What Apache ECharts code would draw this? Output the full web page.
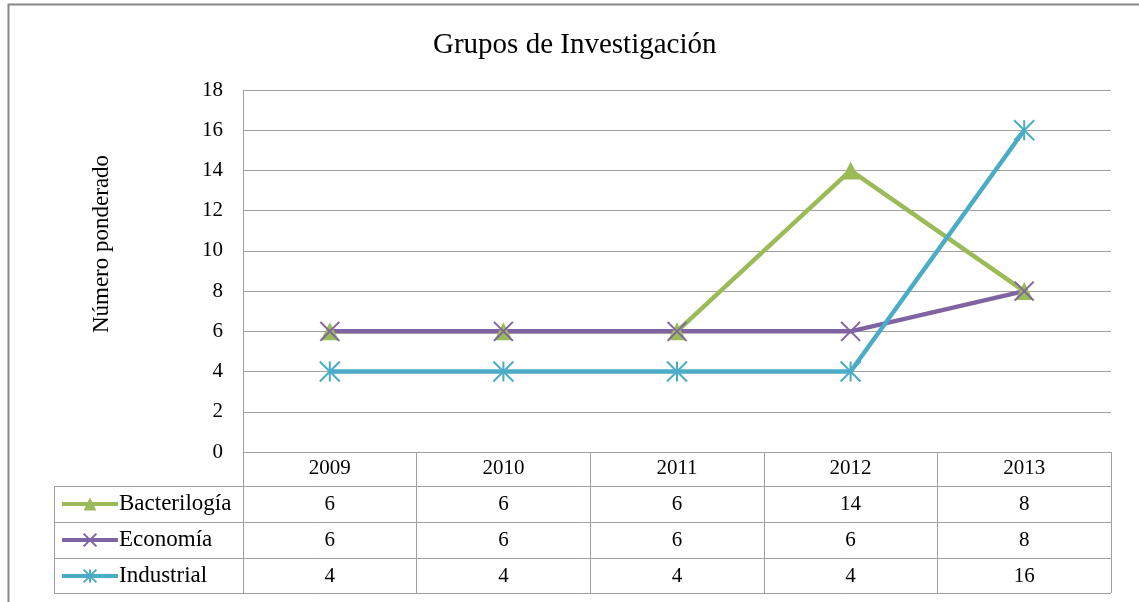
<!DOCTYPE html>
<html>
<head>
<meta charset="utf-8">
<script src="https://cdn.jsdelivr.net/npm/echarts@6/dist/echarts.min.js"></script>
<style>
html, body { margin: 0; padding: 0; background: #fff; }
#chart { width: 1139px; height: 602px; }
</style>
</head>
<body>
<div id="chart"></div>
<script>
var years = ['2009', '2010', '2011', '2012', '2013'];
var bacteriologia = [6, 6, 6, 14, 8];
var economia = [6, 6, 6, 6, 8];
var industrial = [4, 4, 4, 4, 16];
var yTicks = [0, 2, 4, 6, 8, 10, 12, 14, 16, 18];

var serif = '"Liberation Serif", "DejaVu Serif", serif';
var gray = '#a0a0a0';

var crossPath = 'path://M0,0 L10,10 M10,0 L0,10';
var starPath = 'path://M5,0 L5,10 M0,0 L10,10 M10,0 L0,10';

// filas de la tabla de datos bajo el eje
function rowAxis(values, off) {
    return {
        type: 'category',
        data: years,
        position: 'bottom',
        offset: off,
        axisLine: { show: false },
        axisTick: { show: false },
        axisLabel: {
            margin: 6,
            fontFamily: serif, fontSize: 21, color: '#000',
            formatter: function (v, i) { return values[i]; }
        }
    };
}

var myChart = echarts.init(document.getElementById('chart'));

var option = {
    animation: false,
    title: {
        text: 'Grupos de Investigación',
        left: 428,
        top: 26,
        textStyle: { fontFamily: serif, fontSize: 29, fontWeight: 'normal', color: '#000' }
    },
    legend: {
        orient: 'vertical',
        left: 55,
        top: 487,
        itemGap: 12,
        itemWidth: 56,
        itemHeight: 16,
        lineStyle: { width: 4 },
        textStyle: { fontFamily: serif, fontSize: 23, lineHeight: 24, color: '#000', padding: [0, 0, 0, -4] },
        data: ['Bacterilogía', 'Economía', 'Industrial']
    },
    grid: { left: 243, right: 28, top: 90, bottom: 150 },
    xAxis: [{
        type: 'category',
        data: years,
        boundaryGap: true,
        axisLine: { lineStyle: { color: gray, width: 1 } },
        axisTick: { show: true, length: 141, lineStyle: { color: gray } },
        axisLabel: { margin: 6, fontFamily: serif, fontSize: 21, color: '#000' }
    },
        rowAxis(bacteriologia, 36),
        rowAxis(economia, 72),
        rowAxis(industrial, 108)
    ],
    yAxis: {
        type: 'value',
        min: yTicks[0],
        max: yTicks[yTicks.length - 1],
        interval: 2,
        name: 'Número ponderado',
        nameLocation: 'middle',
        nameGap: 130,
        nameTextStyle: { fontFamily: serif, fontSize: 23, color: '#000', padding: [0, 0, 0, 54] },
        axisLine: { show: true, lineStyle: { color: gray } },
        axisTick: { show: false },
        axisLabel: { margin: 20, fontFamily: serif, fontSize: 21, color: '#000' },
        splitLine: { lineStyle: { color: gray, width: 1 } }
    },
    graphic: [
        { type: 'rect', shape: { x: 8.5, y: 4.5, width: 1200, height: 700 }, style: { fill: 'none', stroke: '#888', lineWidth: 2 }, silent: true },
        { type: 'line', shape: { x1: 54, y1: 486.5, x2: 1111, y2: 486.5 }, style: { stroke: gray, lineWidth: 1 } },
        { type: 'line', shape: { x1: 54, y1: 522.5, x2: 1111, y2: 522.5 }, style: { stroke: gray, lineWidth: 1 } },
        { type: 'line', shape: { x1: 54, y1: 558.5, x2: 1111, y2: 558.5 }, style: { stroke: gray, lineWidth: 1 } },
        { type: 'line', shape: { x1: 54, y1: 593.5, x2: 1111, y2: 593.5 }, style: { stroke: gray, lineWidth: 1 } },
        { type: 'line', shape: { x1: 54.5, y1: 486, x2: 54.5, y2: 594 }, style: { stroke: gray, lineWidth: 1 } }
    ],
    series: [{
        name: 'Bacterilogía',
        type: 'line',
        data: bacteriologia,
        symbol: 'triangle',
        symbolSize: 18,
        lineStyle: { color: '#9bbb59', width: 4.5 },
        itemStyle: { color: '#9bbb59' }
    }, {
        name: 'Economía',
        type: 'line',
        data: economia,
        symbol: crossPath,
        symbolSize: 19,
        lineStyle: { color: '#8064a2', width: 4.5 },
        itemStyle: { color: '#8064a2', borderColor: '#8064a2', borderWidth: 2 }
    }, {
        name: 'Industrial',
        type: 'line',
        data: industrial,
        symbol: starPath,
        symbolSize: 20,
        lineStyle: { color: '#4bacc6', width: 4.5 },
        itemStyle: { color: '#4bacc6', borderColor: '#4bacc6', borderWidth: 2 }
    }]
};

myChart.setOption(option);
</script>
</body>
</html>
